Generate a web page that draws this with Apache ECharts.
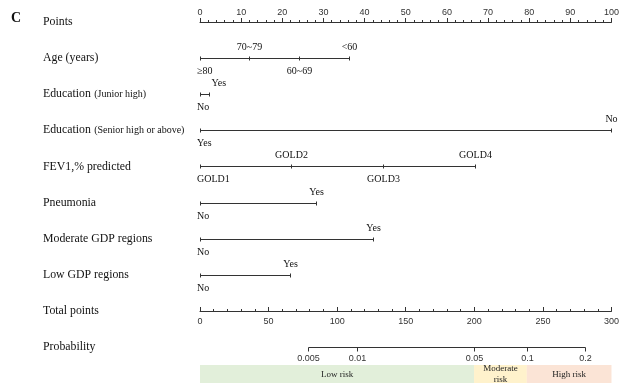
<!DOCTYPE html>
<html>
<head>
<meta charset="utf-8">
<script src="https://cdn.jsdelivr.net/npm/echarts@6/dist/echarts.min.js"></script>
<style>
html,body{margin:0;padding:0;background:#fff;}
#chart{width:622px;height:388px;}
</style>
</head>
<body>
<div id="chart"></div>
<script>
// ---- Data ----
const rowNames = ['Points','Age (years)','Education','Education','FEV1,% predicted','Pneumonia','Moderate GDP regions','Low GDP regions','Total points','Probability'];
const rowNotes = ['','','(Junior high)','(Senior high or above)','','','','','',''];

const ageLevels = ['≥80','70~79','60~69','<60'];
const agePoints = [0, 12, 24.1, 36.3];
const eduJuniorLevels = ['No','Yes'];
const eduJuniorPoints = [0, 2.2];
const eduSeniorLevels = ['Yes','No'];
const eduSeniorPoints = [0, 100];
const fev1Levels = ['GOLD1','GOLD2','GOLD3','GOLD4'];
const fev1Points = [0, 22.2, 44.4, 66.8];
const pneumoniaLevels = ['No','Yes'];
const pneumoniaPoints = [0, 28.1];
const moderateGdpLevels = ['No','Yes'];
const moderateGdpPoints = [0, 42.1];
const lowGdpLevels = ['No','Yes'];
const lowGdpPoints = [0, 21.8];

const pointsRange = [0, 100];
const totalPointsRange = [0, 300];
const probLabels = ['0.005','0.01','0.05','0.1','0.2'];
const probTotalPoints = [78.4, 114.8, 199.8, 238.3, 280.4];
const riskNames = ['Low risk','Moderate\nrisk','High risk'];
const riskEdges = [0, 199.8, 238.3, 300];
const riskColors = ['#e2efda','#fff2cc','#fbe4d6'];

// ---- Build ----
const variables = [
  {row:1, levels:ageLevels, pts:agePoints},
  {row:2, levels:eduJuniorLevels, pts:eduJuniorPoints},
  {row:3, levels:eduSeniorLevels, pts:eduSeniorPoints},
  {row:4, levels:fev1Levels, pts:fev1Points},
  {row:5, levels:pneumoniaLevels, pts:pneumoniaPoints},
  {row:6, levels:moderateGdpLevels, pts:moderateGdpPoints},
  {row:7, levels:lowGdpLevels, pts:lowGdpPoints}
];

const LINE = '#333';
const SERIF = '"Liberation Serif", "Times New Roman", serif';
const SANS = '"Liberation Sans", Arial, sans-serif';
const catFont = '10px ' + SERIF;

const mctx = document.createElement('canvas').getContext('2d');
function measure(text, font){ mctx.font = font; return mctx.measureText(text).width; }
const px = v => Math.round(v) + 0.5;

function renderVar(params, api){
  const v = variables[params.dataIndex];
  const y = px(api.coord([0, v.row])[1]);
  const xs = v.pts.map(p => px(api.coord([p, v.row])[0]));
  const x0 = Math.min.apply(null, xs), x1 = Math.max.apply(null, xs);
  const children = [{type:'line', shape:{x1:x0, y1:y, x2:x1, y2:y}, style:{stroke:LINE, lineWidth:1}}];
  const order = v.pts.map((p,i)=>i).sort((a,b)=>v.pts[a]-v.pts[b]);
  order.forEach((idx, k) => {
    const x = xs[idx];
    children.push({type:'line', shape:{x1:x, y1:y-2, x2:x, y2:y+2}, style:{stroke:LINE, lineWidth:1}});
    const label = v.levels[idx];
    const w = measure(label, catFont);
    let left;
    if (k === 0) left = x - 3.5;
    else {
      left = x - w/2;
      if (left < x0 + 11) left = x0 + 11;
      if (left + w > 621) left = 621 - w;
    }
    const below = (k % 2 === 0);
    children.push({type:'text', x:left, y: below ? y + 8 : y - 6,
      style:{text:label, font:catFont, fill:'#111', align:'left', verticalAlign: below ? 'top' : 'bottom'}});
  });
  return {type:'group', children};
}

function renderProb(params, api){
  const y = px(api.coord([0, 1])[1]);
  const xs = probTotalPoints.map(p => px(api.coord([p, 1])[0]));
  const children = [{type:'line', shape:{x1:xs[0], y1:y, x2:xs[xs.length-1], y2:y}, style:{stroke:LINE, lineWidth:1}}];
  xs.forEach((x, i) => {
    children.push({type:'line', shape:{x1:x, y1:y, x2:x, y2:y+4}, style:{stroke:LINE, lineWidth:1}});
    children.push({type:'text', x:x, y:y+7, style:{text:probLabels[i], font:'9px ' + SANS, fill:'#333', align:'center', verticalAlign:'top'}});
  });
  return {type:'group', children};
}

function renderBand(params, api){
  const i = params.dataIndex;
  const p0 = api.coord([riskEdges[i], 1.5]);
  const p1 = api.coord([riskEdges[i+1], 2]);
  return {type:'group', children:[
    {type:'rect', shape:{x:p0[0], y:p0[1], width:p1[0]-p0[0], height:p1[1]-p0[1]}, style:{fill:riskColors[i]}},
    {type:'text', x:(p0[0]+p1[0])/2, y:(p0[1]+p1[1])/2 + 0.5,
      style:{text:riskNames[i], font:'9px ' + SERIF, fill:'#222', align:'center', verticalAlign:'middle', lineHeight:11}}
  ]};
}

const chart = echarts.init(document.getElementById('chart'), null, {renderer:'canvas'});
chart.setOption({
  animation:false,
  backgroundColor:'#fff',
  title:{text:'C', left:11, top:11, padding:0, textStyle:{fontFamily:SERIF, fontWeight:'bold', fontSize:14, color:'#111'}},
  grid:[
    {left:200, width:413, top:22, height:325},
    {left:200, width:413, top:311, height:72}
  ],
  xAxis:[
    {gridIndex:0, type:'value', position:'top', min:pointsRange[0], max:pointsRange[1], interval:10,
      axisLine:{show:true, lineStyle:{color:LINE, width:1}},
      axisTick:{show:true, length:4, lineStyle:{color:LINE}},
      minorTick:{show:true, splitNumber:5, length:2, lineStyle:{color:LINE}},
      splitLine:{show:false},
      axisLabel:{margin:5, fontSize:9, fontFamily:SANS, color:'#333'}},
    {gridIndex:1, type:'value', position:'top', min:totalPointsRange[0], max:totalPointsRange[1], interval:50,
      axisLine:{show:true, lineStyle:{color:LINE, width:1}},
      axisTick:{show:true, length:4, lineStyle:{color:LINE}},
      minorTick:{show:true, splitNumber:5, length:2, lineStyle:{color:LINE}},
      splitLine:{show:false},
      axisLabel:{inside:true, margin:6, fontSize:9, fontFamily:SANS, color:'#333'}}
  ],
  yAxis:[
    {gridIndex:0, type:'value', inverse:true, min:0, max:rowNames.length-1, interval:1,
      axisLine:{show:false}, axisTick:{show:false}, splitLine:{show:false},
      axisLabel:{align:'left', margin:157,
        formatter:function(v){
          const i = Math.round(v);
          if (!rowNames[i]) return '';
          return rowNotes[i] ? '{m|' + rowNames[i] + '} {s|' + rowNotes[i] + '}' : '{m|' + rowNames[i] + '}';
        },
        rich:{
          m:{fontFamily:SERIF, fontSize:11.8, color:'#111'},
          s:{fontFamily:SERIF, fontSize:10, color:'#111'}
        }}},
    {gridIndex:1, type:'value', inverse:true, min:0, max:2, show:false}
  ],
  series:[
    {type:'custom', xAxisIndex:0, yAxisIndex:0, renderItem:renderVar, clip:false,
      data:variables.map(v => [Math.min.apply(null, v.pts), v.row]), encode:{x:0, y:1}, silent:true},
    {type:'custom', xAxisIndex:1, yAxisIndex:1, renderItem:renderBand, clip:false,
      data:riskNames.map((n,i) => [riskEdges[i], 1.5]), encode:{x:0, y:1}, silent:true, z:1},
    {type:'custom', xAxisIndex:1, yAxisIndex:1, renderItem:renderProb, clip:false,
      data:[[probTotalPoints[0], 1]], encode:{x:0, y:1}, silent:true, z:3}
  ]
});
</script>
</body>
</html>
